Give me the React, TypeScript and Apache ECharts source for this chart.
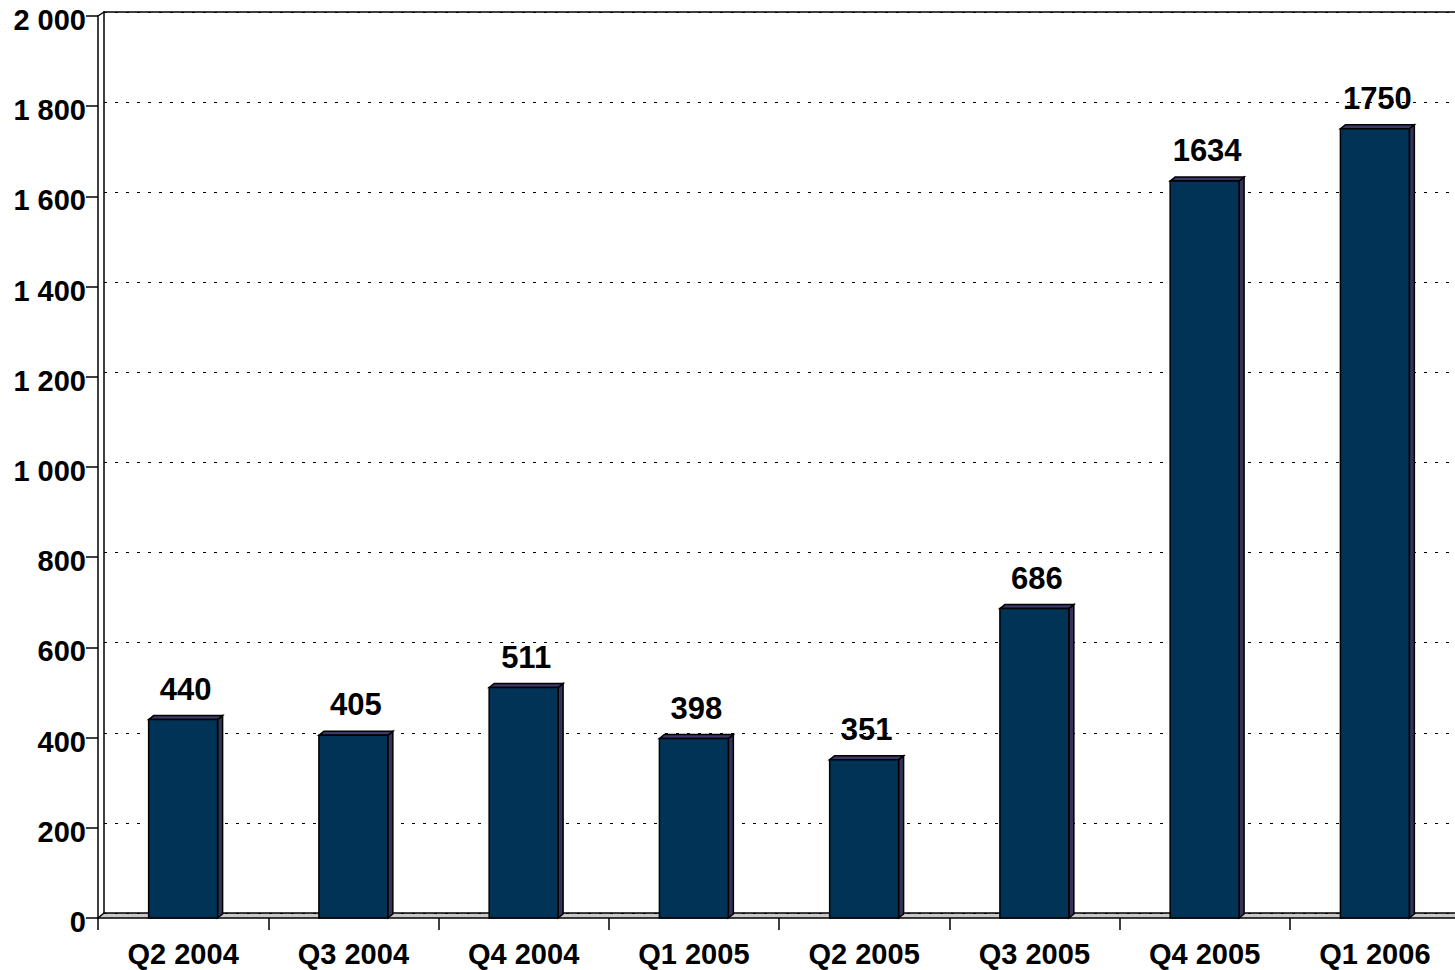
import React, { useEffect, useRef } from "react";
import * as echarts from "echarts";

const categories = ["Q2 2004", "Q3 2004", "Q4 2004", "Q1 2005", "Q2 2005", "Q3 2005", "Q4 2005", "Q1 2006"];
const values = [440, 405, 511, 398, 351, 686, 1634, 1750];
const yMin = 0;
const yMax = 2000;
const yInterval = 200;

const FONT = '"Liberation Sans", Arial, sans-serif';
const FRONT = "#003355";
const SIDE = "#333358";
const TOP = "#3a3a68";
const DX = 5;
const DY = 4;

function fmt(v: number): string {
  if (v >= 1000) return Math.floor(v / 1000) + " " + String(v % 1000).padStart(3, "0");
  return String(v);
}

export default function App() {
  const ref = useRef<HTMLDivElement>(null);
  useEffect(() => {
    const chart = echarts.init(ref.current!, undefined, { renderer: "svg" });
    const W = 1455, H = 970;
    const FL = 98, FT = 16, FW = 1362, FB = 52;
    const BL = FL + 6, BT = FT - 4, BW = FW, BB = FB + 5;
    const option: any = {
      animation: false,
      backgroundColor: "#ffffff",
      grid: [
        { left: FL, top: FT, width: FW, bottom: FB, containLabel: false, outerBoundsMode: "none" },
        { left: BL, top: BT, width: BW, bottom: BB, containLabel: false, outerBoundsMode: "none" },
      ],
      xAxis: [
        {
          type: "category",
          gridIndex: 0,
          data: categories,
          boundaryGap: true,
          axisLine: { show: true, lineStyle: { color: "#000", width: 1.5 } },
          axisTick: { show: true, length: 12, alignWithLabel: false, lineStyle: { color: "#000", width: 1.5 } },
          axisLabel: { color: "#000", fontFamily: FONT, fontWeight: "bold", fontSize: 29, margin: 21, interval: 0 },
          splitLine: { show: false },
        },
        {
          type: "category",
          gridIndex: 1,
          data: categories,
          position: "bottom",
          axisLine: { show: true, lineStyle: { color: "#000", width: 1.5 } },
          axisTick: { show: false },
          axisLabel: { show: false },
          splitLine: { show: false },
        },
        {
          type: "category",
          gridIndex: 1,
          data: categories,
          position: "top",
          axisLine: { show: true, lineStyle: { color: "#000", width: 1.5 } },
          axisTick: { show: false },
          axisLabel: { show: false },
          splitLine: { show: false },
        },
      ],
      yAxis: [
        {
          type: "value",
          gridIndex: 0,
          min: yMin,
          max: yMax,
          interval: yInterval,
          axisLine: { show: true, lineStyle: { color: "#000", width: 1.5 } },
          axisTick: { show: true, length: 12, inside: false, lineStyle: { color: "#000", width: 1.5 } },
          axisLabel: {
            color: "#000",
            fontFamily: FONT,
            fontWeight: "bold",
            fontSize: 29,
            margin: 12,
            verticalAlign: "top",
            lineHeight: 8,
            formatter: (v: number) => fmt(v),
          },
          splitLine: { show: false },
        },
        {
          type: "value",
          gridIndex: 1,
          min: yMin,
          max: yMax,
          interval: yInterval,
          axisLine: { show: true, lineStyle: { color: "#000", width: 1.5 } },
          axisTick: { show: false },
          axisLabel: { show: false },
          splitLine: { show: true, lineStyle: { color: "#000", width: 1, type: [3, 8] } },
        },
      ],
      graphic: [
        {
          type: "polygon",
          z: 0,
          shape: { points: [[FL, H - FB], [BL, H - BB], [W, H - BB], [W, H - FB]] },
          style: { fill: "#c8c8c8", stroke: "none" },
        },
        {
          type: "line",
          shape: { x1: FL, y1: FT, x2: BL, y2: BT },
          style: { stroke: "#000", lineWidth: 1.5 },
        },
        {
          type: "line",
          shape: { x1: FL, y1: H - FB, x2: BL, y2: H - BB },
          style: { stroke: "#000", lineWidth: 1.5 },
        },
      ],
      series: [
        {
          type: "custom",
          xAxisIndex: 0,
          yAxisIndex: 0,
          z: 5,
          data: values.map((v, i) => [i, v]),
          renderItem: (params: any, api: any) => {
            const i = api.value(0);
            const v = api.value(1);
            const top = api.coord([i, v]);
            const base = api.coord([i, 0]);
            const w = api.size([1, 0])[0] * 0.405;
            const x0 = top[0] - w / 2;
            const x1 = top[0] + w / 2;
            const yT = top[1];
            const yB = base[1];
            const stroke = { stroke: "#000", lineWidth: 1.5 };
            return {
              type: "group",
              children: [
                {
                  type: "polygon",
                  shape: { points: [[x1, yT], [x1 + DX, yT - DY], [x1 + DX, yB - DY], [x1, yB]] },
                  style: { fill: SIDE, ...stroke },
                },
                {
                  type: "polygon",
                  shape: { points: [[x0, yT], [x0 + DX, yT - DY], [x1 + DX, yT - DY], [x1, yT]] },
                  style: { fill: TOP, ...stroke },
                },
                {
                  type: "rect",
                  shape: { x: x0, y: yT, width: w, height: yB - yT },
                  style: { fill: FRONT, ...stroke },
                },
                {
                  type: "text",
                  x: top[0] + DX / 2,
                  y: yT - 15,
                  style: {
                    text: String(v),
                    fill: "#000",
                    font: 'bold 31px "Liberation Sans", Arial, sans-serif',
                    align: "center",
                    verticalAlign: "bottom",
                  },
                },
              ],
            };
          },
        },
      ],
    };
    chart.setOption(option);
    return () => chart.dispose();
  }, []);
  return (
    <div
      ref={ref}
      style={{ position: "fixed", left: 0, top: 0, width: 1455, height: 970, background: "#fff" }}
    />
  );
}
